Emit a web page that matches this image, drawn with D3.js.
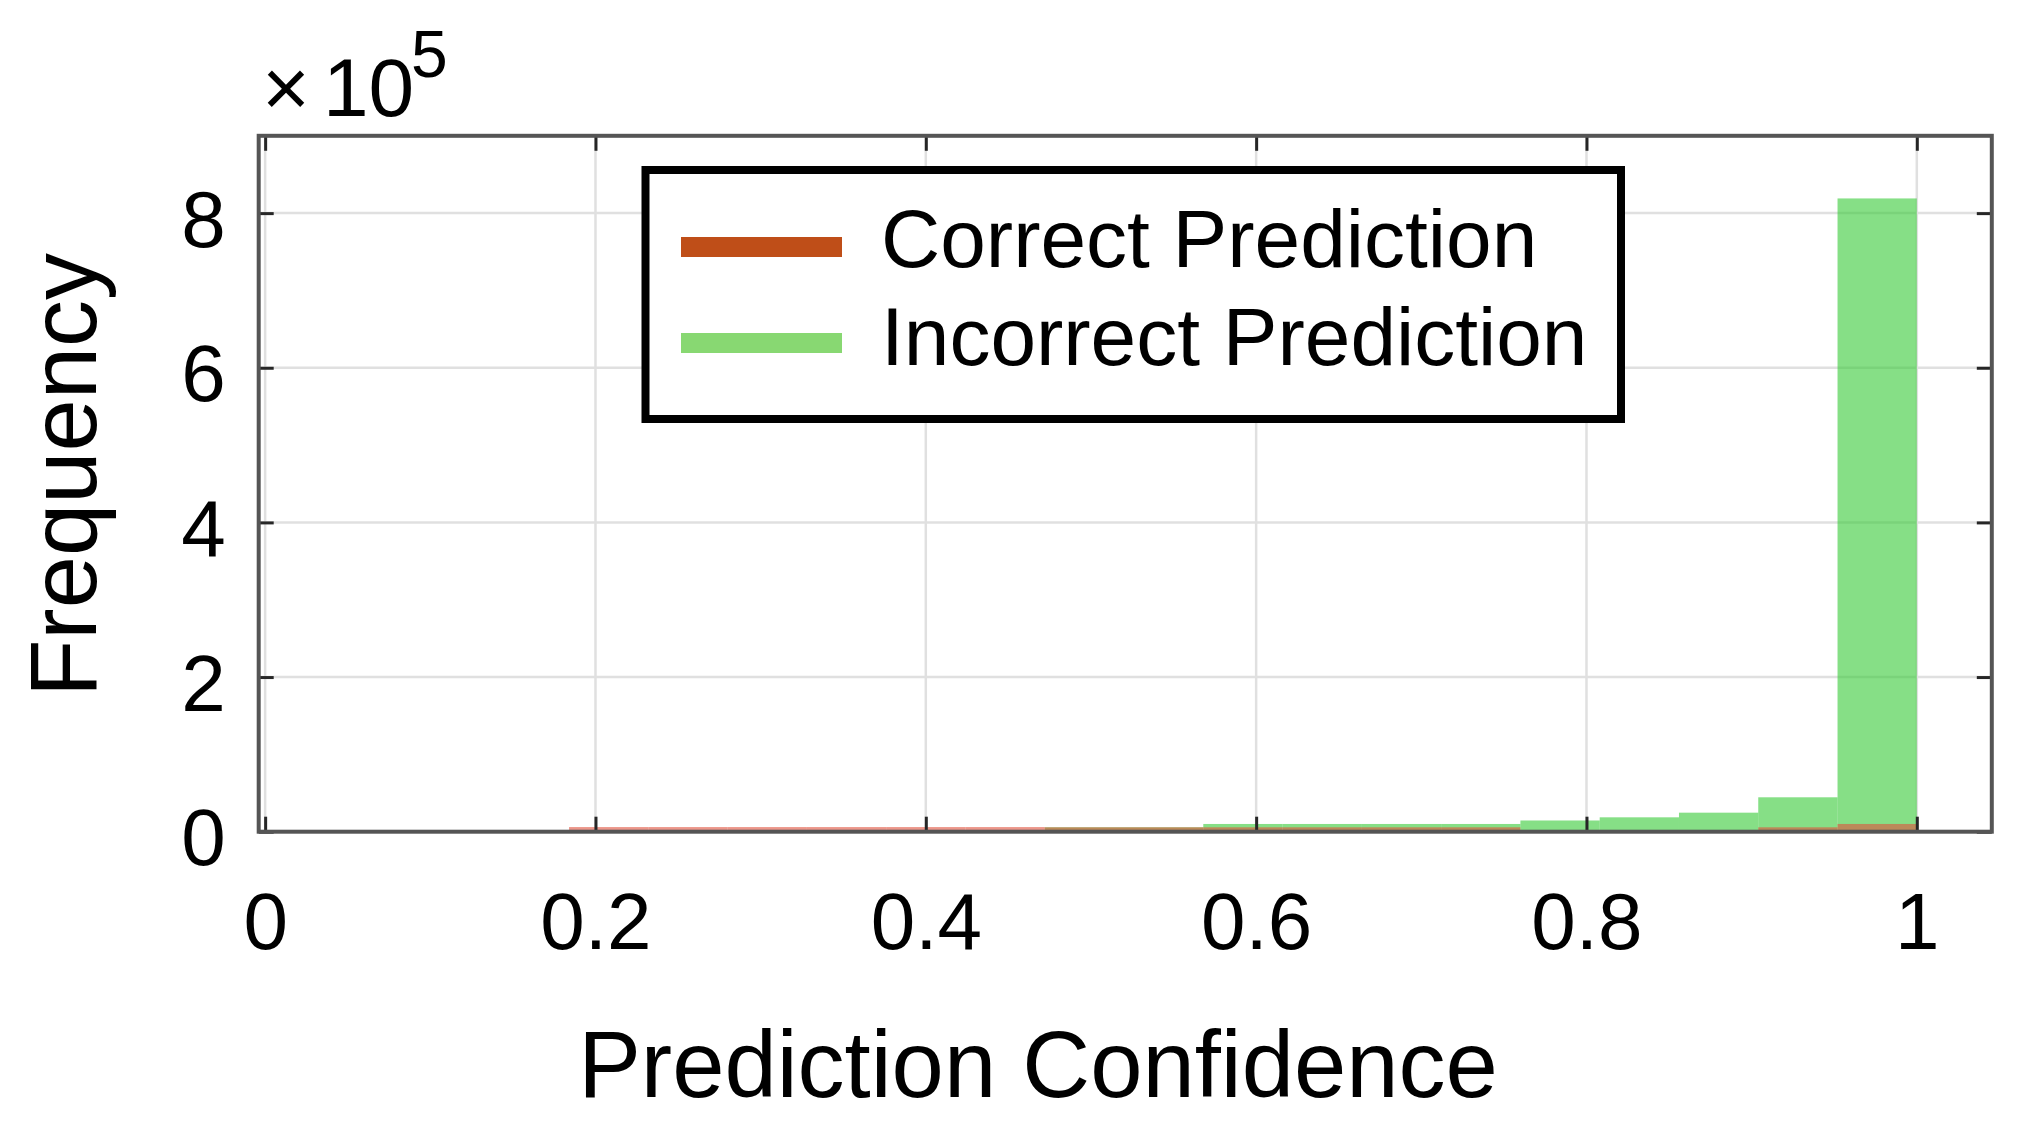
<!DOCTYPE html>
<html>
<head>
<meta charset="utf-8">
<script src="https://cdn.jsdelivr.net/npm/d3@7/dist/d3.min.js"></script>
<style>
  html, body { margin: 0; padding: 0; background: #fff; }
  svg { display: block; }
  text { font-family: "Liberation Sans", Arial, sans-serif; fill: #000; }
</style>
</head>
<body>
<svg id="chart" width="2028" height="1130"></svg>
<script>
// ---- data ----
const binEdges = [0.184, 0.232, 0.280, 0.328, 0.376, 0.424, 0.472, 0.520, 0.568,
                  0.616, 0.664, 0.712, 0.760, 0.808, 0.856, 0.904, 0.952, 1.000];
const correctCounts   = [6000, 6000, 6000, 6000, 6000, 6000, 5700, 5700, 5700,
                         5700, 5700, 5700, 0, 0, 0, 5700, 10000];
const incorrectCounts = [0, 0, 0, 0, 0, 0, 5700, 5700, 10000,
                         10000, 10000, 10000, 14500, 18600, 24600, 44500, 819000];
const xTicks = [0, 0.2, 0.4, 0.6, 0.8, 1];
const xTickLabels = ["0", "0.2", "0.4", "0.6", "0.8", "1"];
const yTicks = [0, 200000, 400000, 600000, 800000];
const yTickLabels = ["0", "2", "4", "6", "8"];
const seriesNames = ["Correct Prediction", "Incorrect Prediction"];

// ---- layout ----
const L = 258.7, R = 1991.8, T = 135.8, B = 831.7;
const svg = d3.select("#chart");

const x = d3.scaleLinear().domain([-0.0039, 1.0454]).range([L, R]);
const y = d3.scaleLinear().domain([0, 900000]).range([B, T]);

const bins = binEdges.slice(0, -1).map((e, i) => ({
  x0: e, x1: binEdges[i + 1], c: correctCounts[i], w: incorrectCounts[i]
}));

// grid
const grid = svg.append("g");
grid.selectAll("line.gx").data(xTicks).join("line")
  .attr("x1", d => x(d)).attr("x2", d => x(d)).attr("y1", T).attr("y2", B)
  .attr("stroke", "#e0e0e0").attr("stroke-width", 2.5);
grid.selectAll("line.gy").data(yTicks).join("line")
  .attr("y1", d => y(d)).attr("y2", d => y(d)).attr("x1", L).attr("x2", R)
  .attr("stroke", "#e0e0e0").attr("stroke-width", 2.5);

// bars: incorrect (green) then correct (red) on top, both translucent
svg.append("g").selectAll("rect").data(bins).join("rect")
  .attr("x", d => x(d.x0)).attr("width", d => x(d.x1) - x(d.x0))
  .attr("y", d => y(d.w)).attr("height", d => B - y(d.w))
  .attr("fill", "#3ccb3c").attr("fill-opacity", 0.62);
svg.append("g").selectAll("rect").data(bins).join("rect")
  .attr("x", d => x(d.x0)).attr("width", d => x(d.x1) - x(d.x0))
  .attr("y", d => y(d.c)).attr("height", d => B - y(d.c))
  .attr("fill", "#e0503c").attr("fill-opacity", 0.6);

// axes (ticks inward on all four sides)
const tickLen = 15;
function styleAxis(g) {
  g.select(".domain").remove();
  g.selectAll(".tick line").attr("stroke", "#262626").attr("stroke-width", 3);
}
const xb = svg.append("g").attr("transform", `translate(0,${B})`)
  .call(d3.axisBottom(x).tickValues(xTicks).tickSize(-tickLen)
        .tickFormat((d, i) => xTickLabels[i]));
styleAxis(xb);
xb.selectAll(".tick text").attr("y", 117).attr("dy", null)
  .attr("font-size", 80).attr("font-family", "Liberation Sans, Arial, sans-serif").attr("fill", "#000");

const xt = svg.append("g").attr("transform", `translate(0,${T})`)
  .call(d3.axisTop(x).tickValues(xTicks).tickSize(-tickLen).tickFormat(""));
styleAxis(xt);

const yl = svg.append("g").attr("transform", `translate(${L},0)`)
  .call(d3.axisLeft(y).tickValues(yTicks).tickSize(-tickLen)
        .tickFormat((d, i) => yTickLabels[i]));
styleAxis(yl);
yl.selectAll(".tick text").attr("x", -33).attr("dy", null).attr("y", 33)
  .attr("font-size", 80).attr("font-family", "Liberation Sans, Arial, sans-serif").attr("fill", "#000");

const yr = svg.append("g").attr("transform", `translate(${R},0)`)
  .call(d3.axisRight(y).tickValues(yTicks).tickSize(-tickLen).tickFormat(""));
styleAxis(yr);

// frame
svg.append("rect").attr("x", L).attr("y", T).attr("width", R - L).attr("height", B - T)
  .attr("fill", "none").attr("stroke", "#555").attr("stroke-width", 4);

// exponent label
svg.append("text").attr("x", 262).attr("y", 116).attr("font-size", 82)
  .attr("fill", "#555").text("×");
svg.append("text").attr("x", 323).attr("y", 116).attr("font-size", 82).text("10");
svg.append("text").attr("x", 411).attr("y", 77).attr("font-size", 66).text("5");

// axis titles
svg.append("text").attr("x", 1038).attr("y", 1097).attr("text-anchor", "middle")
  .attr("font-size", 94).text("Prediction Confidence");
svg.append("text").attr("transform", "translate(96,475) rotate(-90)")
  .attr("text-anchor", "middle").attr("font-size", 94).text("Frequency");

// legend
const leg = svg.append("g");
leg.append("rect").attr("x", 645.5).attr("y", 170).attr("width", 975.5).attr("height", 249)
  .attr("fill", "#fff").attr("stroke", "#000").attr("stroke-width", 8);
const legColors = ["#bf4e18", "#88d872"];
const legY = [247, 343];
const legBase = [267, 365];
seriesNames.forEach((name, i) => {
  leg.append("line").attr("x1", 681).attr("x2", 842).attr("y1", legY[i]).attr("y2", legY[i])
    .attr("stroke", legColors[i]).attr("stroke-width", 20);
  leg.append("text").attr("x", 881).attr("y", legBase[i]).attr("font-size", 82).text(name);
});
</script>
</body>
</html>
